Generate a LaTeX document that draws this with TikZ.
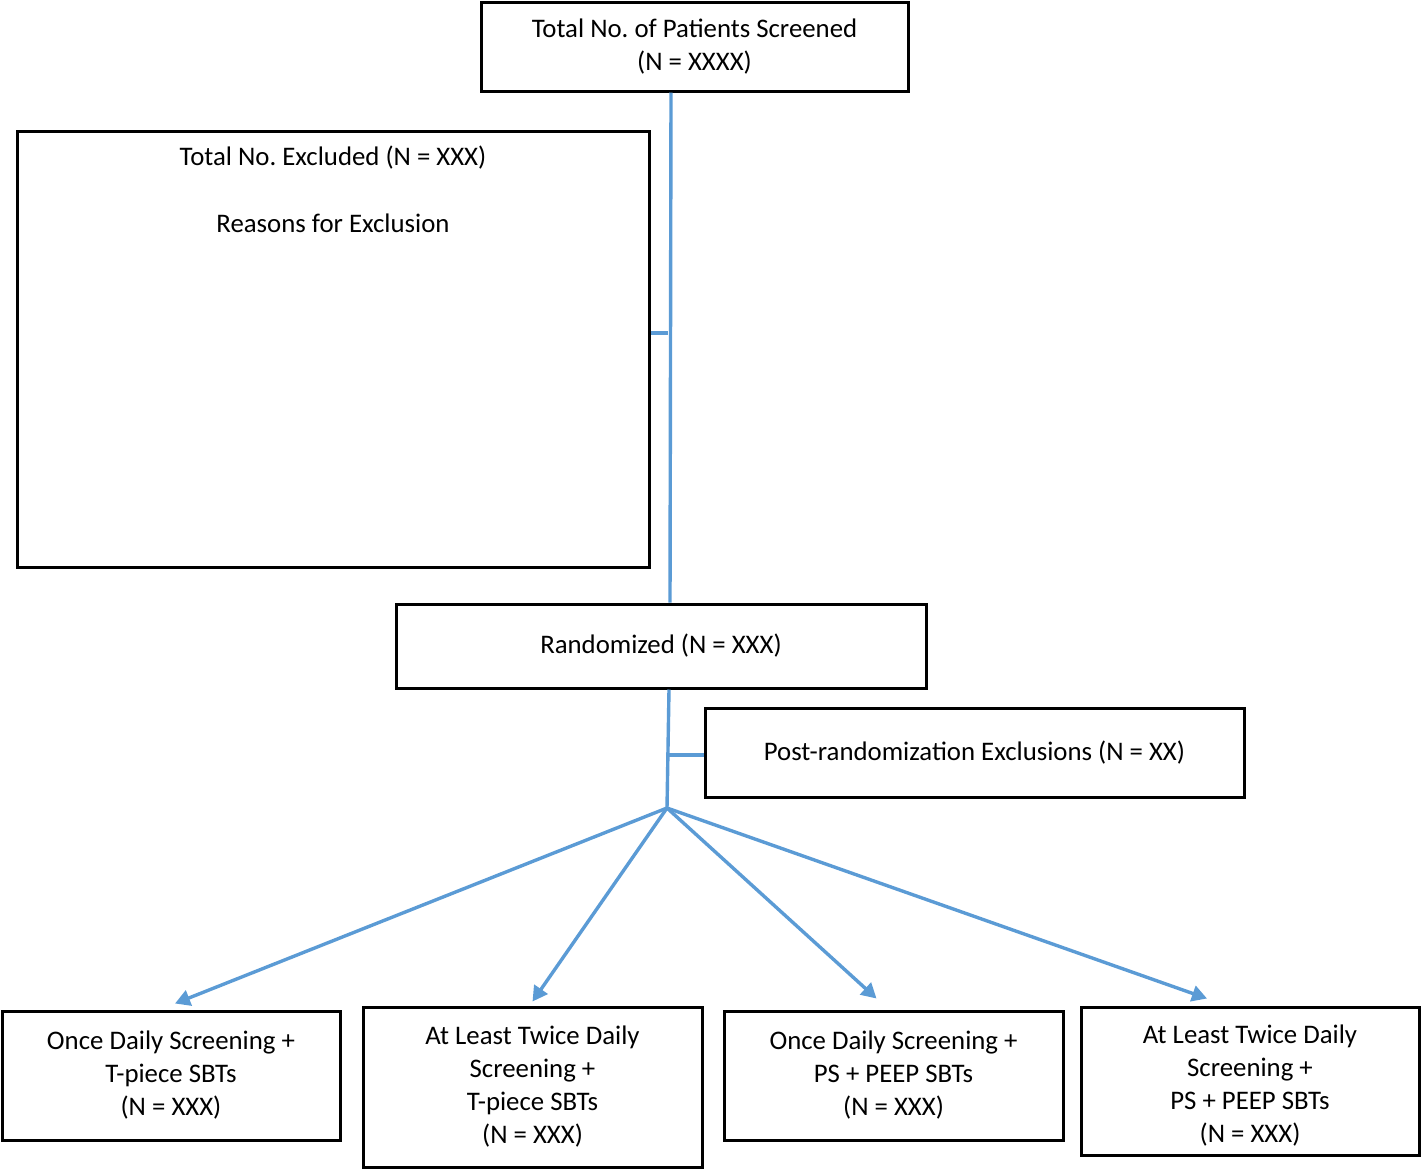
\documentclass[tikz,border=0pt]{standalone}
\usepackage{fontspec}
\setmainfont{Carlito}
\usetikzlibrary{arrows.meta,calc}
\definecolor{lblue}{RGB}{91,155,213}
\frenchspacing
\begin{document}
\begin{tikzpicture}[x=1pt,y=-1pt,
  box/.style={draw=black,line width=3pt,align=center,inner sep=0pt,font=\fontsize{26.8}{33}\selectfont},
  conn/.style={draw=lblue,line width=3.4pt},
  arr/.style={conn,-{Triangle[length=15pt,width=16pt]}},
  lbl/.style={align=center,inner sep=0pt,font=\fontsize{26.8}{33}\selectfont}]
\useasboundingbox (0,0) rectangle (1421,1170);
% boxes
\node[box,minimum width=427pt,minimum height=89pt] (top) at (694.5,46.5) {Total No. of Patients Screened\\(N = XXXX)};
\node[box,minimum width=632pt,minimum height=436pt] (excl) at (333,349) {};
\node[lbl,anchor=center] (exclt) at (333,158) {Total No. Excluded (N = XXX)};
\node[lbl,anchor=center] (exclr) at (333,223) {Reasons for Exclusion};
\node[box,minimum width=530pt,minimum height=84pt] (rand) at (661,646) {Randomized (N = XXX)};
\node[box,minimum width=539pt,minimum height=89pt] (post) at (974.5,752.5) {Post-randomization Exclusions (N = XX)};
\node[box,minimum width=338pt,minimum height=129pt] (b1) at (171,1075.5) {Once Daily Screening +\\T-piece SBTs\\(N = XXX)};
\node[box,minimum width=339pt,minimum height=160pt] (b2) at (532.5,1087) {At Least Twice Daily\\Screening +\\T-piece SBTs\\(N = XXX)};
\node[box,minimum width=339pt,minimum height=129pt] (b3) at (893.5,1075.5) {Once Daily Screening +\\PS + PEEP SBTs\\(N = XXX)};
\node[box,minimum width=338pt,minimum height=148pt] (b4) at (1250,1081) {};
\node[lbl] (b4t) at (1250,1086) {At Least Twice Daily\\Screening +\\PS + PEEP SBTs\\(N = XXX)};
% connector points
\coordinate (t1) at (668,333);
\coordinate (t2) at (668,755);
\coordinate (split) at (667,808);
% connectors
\draw[conn] (top.south -| 671,0) -- (rand.north -| 670,0);
\draw[conn] (excl.east |- t1) -- (t1);
\draw[conn] (rand.south -| 669,0) -- (split);
\draw[conn] (t2) -- (post.west |- t2);
\draw[arr] (split) -- ($(b1.north)+(4,-6)$);
\draw[arr] (split) -- ($(b2.north)+(0,-4)$);
\draw[arr] (split) -- ($(b3.north)+(-17,-11)$);
\draw[arr] (split) -- ($(b4.north)+(-43,-7)$);
\end{tikzpicture}
\end{document}
